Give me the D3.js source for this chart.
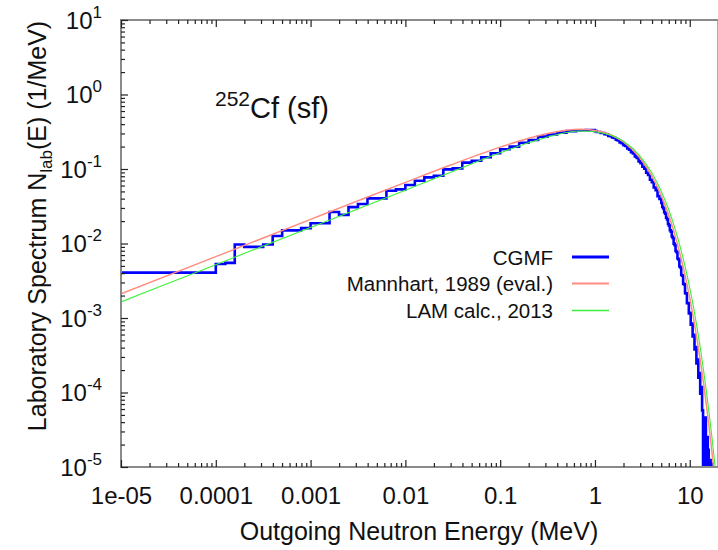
<!DOCTYPE html>
<html><head><meta charset="utf-8">
<script src="https://cdn.jsdelivr.net/npm/d3@7"></script>
<style>
html,body{margin:0;padding:0;background:#fff;}
svg{display:block;font-family:"Liberation Sans",Arial,Helvetica,sans-serif;}
</style></head><body>
<svg id="chart" width="718" height="550"></svg>
<script>
// CGMF prompt fission neutron spectrum: histogram bin edges (MeV) and N(E) per bin (1/MeV)
const cgmfEdges = [
  1e-5,
  1e-4, 1.259e-4, 1.585e-4, 1.995e-4, 2.512e-4, 3.162e-4, 3.981e-4, 5.012e-4, 6.310e-4, 7.943e-4,
  1e-3, 1.259e-3, 1.585e-3, 1.995e-3, 2.512e-3, 3.162e-3, 3.981e-3, 5.012e-3, 6.310e-3, 7.943e-3,
  1e-2, 1.259e-2, 1.585e-2, 1.995e-2, 2.512e-2, 3.162e-2, 3.981e-2, 5.012e-2, 6.310e-2, 7.943e-2,
  0.1, 0.1259, 0.1585, 0.1995, 0.2512, 0.3162, 0.3981, 0.5012, 0.6310, 0.7943,
  1, 1.0471, 1.0965, 1.1482, 1.2023, 1.2589, 1.3183, 1.3804, 1.4454, 1.5136,
  1.5849, 1.6596, 1.7378, 1.8197, 1.9055, 1.9953, 2.0893, 2.1878, 2.2909, 2.3988,
  2.5119, 2.6303, 2.7542, 2.8840, 3.0200, 3.1623, 3.3113, 3.4674, 3.6308, 3.8019,
  3.9811, 4.1687, 4.3652, 4.5709, 4.7863, 5.0119,
  5.1286, 5.2481, 5.3703, 5.4954, 5.6234, 5.7544, 5.8884, 6.0256, 6.1660, 6.3096,
  6.4565, 6.6069, 6.7608, 6.9183, 7.0795, 7.2444, 7.4131, 7.5858, 7.7625, 7.9433,
  8.1283, 8.3176, 8.5114, 8.7096, 8.9125, 9.1201, 9.3325, 9.5499, 9.7724, 10.0,
  10.233, 10.471, 10.715, 10.965, 11.220, 11.482, 11.749, 12.023, 12.303, 12.589,
  12.882, 13.183, 13.490, 13.804, 14.125, 14.454, 14.791, 15.136, 15.488, 15.849,
  16.218, 16.596, 16.982, 17.378, 17.783, 18.197, 18.621, 19.055, 19.498, 19.953
];
const cgmfValues = [
  4.06e-3,
  5.3e-3, 5.5e-3, 9.7e-3, 9.0e-3, 9.0e-3, 9.7e-3, 1.26e-2, 1.50e-2, 1.50e-2, 1.61e-2,
  1.87e-2, 1.87e-2, 2.65e-2, 2.42e-2, 3.08e-2, 3.39e-2, 4.03e-2, 4.03e-2, 5.11e-2, 5.33e-2,
  6.10e-2, 6.97e-2, 7.73e-2, 8.13e-2, 9.9e-2, 0.102, 0.1216, 0.129, 0.1435, 0.1625,
  0.1837, 0.1995, 0.2256, 0.245, 0.2716, 0.290, 0.308, 0.322, 0.331, 0.333,
  0.3228, 0.3143, 0.3133, 0.3046, 0.3040, 0.2939, 0.2908, 0.2787, 0.2753, 0.2645,
  0.2606, 0.2470, 0.2416, 0.2278, 0.2227, 0.2092, 0.2038, 0.1885, 0.1820, 0.1676,
  0.1614, 0.1479, 0.1410, 0.1266, 0.1199, 0.1072, 0.1013, 0.08914, 0.08314, 0.07164,
  0.06653, 0.05641, 0.05211, 0.04329, 0.03962,
  0.03491, 0.03089, 0.02951, 0.02625, 0.02508, 0.02212, 0.02105, 0.01823, 0.01735, 0.01503,
  0.01444, 0.01239, 0.01184, 0.009974, 0.009509, 0.007949, 0.007661, 0.006283, 0.006092, 0.004910,
  0.004766, 0.003783, 0.003709, 0.002873, 0.002831, 0.002159, 0.002143, 0.001586, 0.001589, 0.001149,
  0.001174, 8.14e-4, 8.41e-4, 5.64e-4, 5.97e-4, 3.77e-4, 4.08e-4, 2.46e-4, 2.76e-4, 1.576e-4,
  1.827e-4, 9.64e-5, 1.183e-4, 5.76e-5, 0, 3.25e-5, 4.62e-5, 0, 2.53e-5, 1.70e-5,
  0, 1.24e-5, 0, 1.1e-5, 0, 0, 0, 0, 0, 0
];

// Mannhart (1989) evaluation and Los Alamos model (2013) calculation, N(E) in 1/MeV
const curveEnergies = [1e-5, 1e-4, 1e-3, 3e-3, 0.01, 0.03, 0.1, 0.2, 0.3, 0.5, 0.7, 1, 1.5, 2, 3, 4, 5,
  6, 7, 8, 9, 10, 11, 12, 13, 14, 15, 16, 17, 18, 19, 20];
const mannhartValues = [2.11e-3, 6.67e-3, 2.107e-2, 3.645e-2, 0.0662, 0.1131, 0.1966, 0.2590, 0.2957,
  0.3316, 0.3408, 0.3298, 0.2840, 0.2306, 0.1396, 0.07974, 0.04410, 0.02388, 0.01275, 6.742e-3,
  3.535e-3, 1.843e-3, 9.56e-4, 4.935e-4, 2.539e-4, 1.303e-4, 6.67e-5, 3.41e-5, 1.736e-5, 8.83e-6,
  4.49e-6, 2.28e-6];
const lamValues = [1.646e-3, 5.20e-3, 1.643e-2, 2.843e-2, 0.0520, 0.0905, 0.1651, 0.2253, 0.2632,
  0.3084, 0.3238, 0.3166, 0.2812, 0.2352, 0.1480, 0.0877, 0.0503, 0.02842, 0.01568, 8.63e-3,
  4.702e-3, 2.543e-3, 1.358e-3, 7.16e-4, 3.76e-4, 1.955e-4, 1.02e-4, 5.29e-5, 2.74e-5, 1.41e-5,
  7.32e-6, 3.76e-6];

const xTickValues = [1e-5, 1e-4, 1e-3, 1e-2, 1e-1, 1, 10];
const xTickLabels = ["1e-05", "0.0001", "0.001", "0.01", "0.1", "1", "10"];
const yTickValues = [1e-5, 1e-4, 1e-3, 1e-2, 1e-1, 1, 10];
const yTickExponents = ["-5", "-4", "-3", "-2", "-1", "0", "1"];

const legendLabels = ["CGMF", "Mannhart, 1989 (eval.)", "LAM calc., 2013"];
const seriesColors = ["#0000ff", "#ff8c80", "#3cf03c"];
const seriesWidths = [2.6, 1.5, 1.1];

const svg = d3.select("#chart");
const L = 121, R = 718.3, T = 20, B = 467;

const x = d3.scaleLog().domain([1e-5, 20]).range([L, R]);
const y = d3.scaleLog().domain([1e-5, 10]).range([B, T]);

// clip region for the data
svg.append("defs").append("clipPath").attr("id", "plotClip")
  .append("rect").attr("x", L).attr("y", T).attr("width", R - L).attr("height", B - T);

const plot = svg.append("g").attr("clip-path", "url(#plotClip)");

// CGMF histogram as a step path (empty bins fall below the axis)
const steps = [];
cgmfValues.forEach((v, i) => {
  steps.push([cgmfEdges[i], v]);
  steps.push([cgmfEdges[i + 1], v]);
});
const histLine = d3.line()
  .x(d => x(d[0]))
  .y(d => y(Math.max(d[1], 1e-8)));
plot.append("path").datum(steps)
  .attr("d", histLine)
  .attr("fill", "none")
  .attr("stroke", seriesColors[0])
  .attr("stroke-width", seriesWidths[0])
  .attr("stroke-linejoin", "miter");

const smooth = d3.line()
  .x(d => x(d[0]))
  .y(d => y(d[1]))
  .curve(d3.curveMonotoneX);

plot.append("path").datum(curveEnergies.map((e, i) => [e, mannhartValues[i]]))
  .attr("d", smooth).attr("fill", "none")
  .attr("stroke", seriesColors[1]).attr("stroke-width", seriesWidths[1]);

plot.append("path").datum(curveEnergies.map((e, i) => [e, lamValues[i]]))
  .attr("d", smooth).attr("fill", "none")
  .attr("stroke", seriesColors[2]).attr("stroke-width", seriesWidths[2]);

// frame
svg.append("rect").attr("x", L).attr("y", T).attr("width", R - L).attr("height", B - T)
  .attr("fill", "none").attr("stroke", "#8a8a8a").attr("stroke-width", 2);

const xMinor = x.ticks().filter(v => xTickValues.indexOf(v) < 0 && v <= 20);
const yMinor = y.ticks().filter(v => yTickValues.indexOf(v) < 0);

function styleAxis(g) {
  g.select(".domain").remove();
  g.selectAll(".tick line").attr("stroke", "#222").attr("stroke-width", 1.2);
}

// bottom axis
svg.append("g").attr("transform", `translate(0,${B})`)
  .call(d3.axisBottom(x).tickValues(xTickValues).tickSizeInner(-7).tickSizeOuter(0)
    .tickPadding(20).tickFormat((d, i) => xTickLabels[i]))
  .call(styleAxis)
  .call(g => g.selectAll("text").attr("font-size", 24).attr("fill", "#111")
    .attr("font-family", "Liberation Sans, Arial, sans-serif"));
svg.append("g").attr("transform", `translate(0,${B})`)
  .call(d3.axisBottom(x).tickValues(xMinor).tickSizeInner(-4).tickSizeOuter(0).tickFormat(""))
  .call(styleAxis);

// top axis (ticks only)
svg.append("g").attr("transform", `translate(0,${T})`)
  .call(d3.axisTop(x).tickValues(xTickValues).tickSizeInner(-7).tickSizeOuter(0).tickFormat(""))
  .call(styleAxis);
svg.append("g").attr("transform", `translate(0,${T})`)
  .call(d3.axisTop(x).tickValues(xMinor).tickSizeInner(-4).tickSizeOuter(0).tickFormat(""))
  .call(styleAxis);

// left axis with power-of-ten labels
svg.append("g").attr("transform", `translate(${L},0)`)
  .call(d3.axisLeft(y).tickValues(yTickValues).tickSizeInner(-7).tickSizeOuter(0)
    .tickPadding(19).tickFormat(""))
  .call(styleAxis)
  .call(g => g.selectAll(".tick text").each(function (d, i) {
    const t = d3.select(this).attr("fill", "#111").attr("font-family", "Liberation Sans, Arial, sans-serif")
      .attr("dy", null).attr("y", 8);
    t.append("tspan").attr("font-size", 24).text("10");
    t.append("tspan").attr("font-size", 17).attr("dy", -11).text(yTickExponents[i]);
  }));
svg.append("g").attr("transform", `translate(${L},0)`)
  .call(d3.axisLeft(y).tickValues(yMinor).tickSizeInner(-4).tickSizeOuter(0).tickFormat(""))
  .call(styleAxis);

// axis titles
svg.append("text")
  .attr("x", 419).attr("y", 540)
  .attr("text-anchor", "middle").attr("font-size", 25).attr("fill", "#111")
  .text("Outgoing Neutron Energy (MeV)");

const yTitle = svg.append("text")
  .attr("transform", "translate(46,226) rotate(-90)")
  .attr("text-anchor", "middle").attr("font-size", 25).attr("fill", "#111");
yTitle.append("tspan").text("Laboratory Spectrum N");
yTitle.append("tspan").attr("font-size", 17).attr("dy", 6).text("lab");
yTitle.append("tspan").attr("dy", -6).text("(E) (1/MeV)");

// reaction label
const title = svg.append("text").attr("x", 215).attr("y", 118).attr("fill", "#111");
title.append("tspan").attr("font-size", 21).attr("dy", -12).text("252");
title.append("tspan").attr("font-size", 29).attr("dy", 12).text("Cf (sf)");

// legend
const legendRows = [257, 283.5, 310.5];
legendLabels.forEach((lab, i) => {
  svg.append("text").attr("x", 553).attr("y", legendRows[i] + 7.5)
    .attr("text-anchor", "end").attr("font-size", 20.5).attr("fill", "#111").text(lab);
  svg.append("line").attr("x1", 572).attr("x2", 609)
    .attr("y1", legendRows[i]).attr("y2", legendRows[i])
    .attr("stroke", seriesColors[i]).attr("stroke-width", seriesWidths[i] + (i === 0 ? 0.4 : 0.5));
});
</script>
</body></html>
